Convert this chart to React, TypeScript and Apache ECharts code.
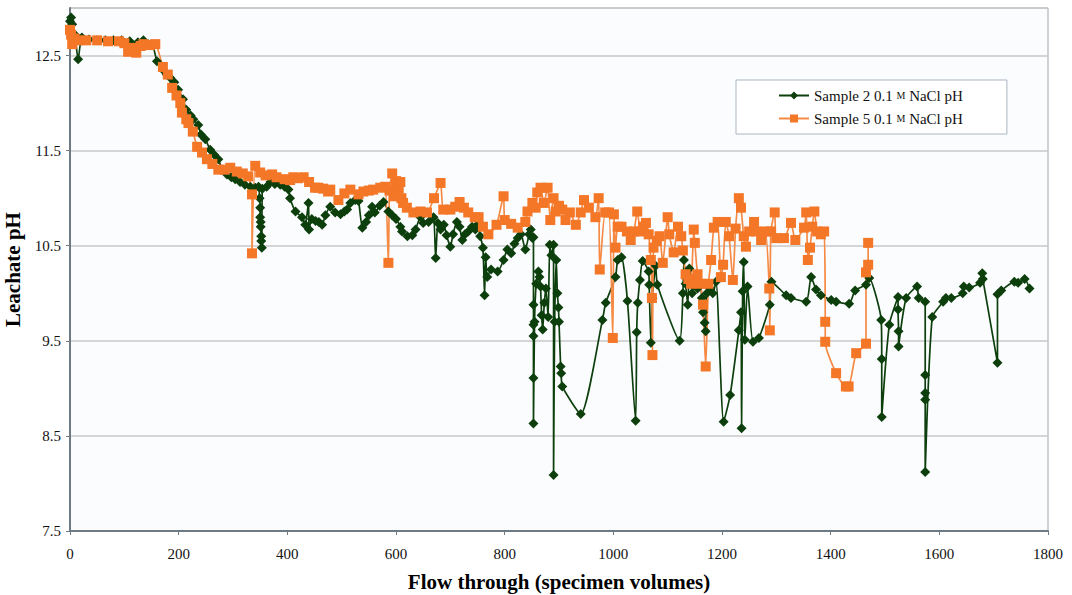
import React, { useEffect, useRef } from "react";
import * as echarts from "echarts";

const xTicks = [0, 200, 400, 600, 800, 1000, 1200, 1400, 1600, 1800];
const yTicks = [7.5, 8.5, 9.5, 10.5, 11.5, 12.5];
const seriesNames = ["Sample 2 0.1 M NaCl pH", "Sample 5 0.1 M NaCl pH"];

const sample2: [number, number][] = [
  [0, 12.86], [2, 12.9], [4, 12.83], [9, 12.72], [15, 12.46], [22, 12.69], [35, 12.67], [50, 12.66],
  [65, 12.66], [80, 12.66], [95, 12.66], [110, 12.65], [125, 12.64], [135, 12.66], [144, 12.62], [151, 12.62],
  [160, 12.44], [171, 12.35], [178, 12.3], [184, 12.27], [192, 12.22], [199, 12.14], [208, 12.04], [214, 11.93],
  [222, 11.87], [227, 11.83], [236, 11.77], [241, 11.67], [249, 11.62], [258, 11.51], [265, 11.46], [273, 11.41],
  [280, 11.3], [289, 11.25], [297, 11.22], [304, 11.2], [313, 11.17], [322, 11.14], [332, 11.12], [341, 11.11],
  [347, 11.12], [349, 11.0], [350, 10.9], [350, 10.8], [351, 10.75], [351, 10.7], [352, 10.6], [352, 10.55],
  [353, 10.48], [354, 11.1], [362, 11.12], [369, 11.17], [377, 11.15], [387, 11.14], [395, 11.12], [402, 11.09],
  [405, 11.0], [415, 10.86], [427, 10.8], [433, 10.72], [439, 10.95], [440, 10.67], [445, 10.78], [452, 10.76],
  [458, 10.75], [464, 10.72], [470, 10.82], [479, 10.91], [488, 10.85], [498, 10.83], [505, 10.86], [510, 10.88],
  [516, 10.95], [525, 10.98], [531, 10.97], [538, 10.69], [545, 10.75], [550, 10.82], [556, 10.91], [561, 10.85],
  [570, 10.92], [577, 10.96], [586, 10.86], [593, 10.82], [600, 10.78], [608, 10.7], [611, 10.65], [621, 10.6],
  [630, 10.61], [636, 10.67], [645, 10.8], [650, 10.74], [660, 10.75], [669, 10.8], [673, 10.37], [677, 10.74],
  [682, 10.67], [688, 10.72], [693, 10.61], [700, 10.49], [705, 10.62], [712, 10.75], [717, 10.7], [722, 10.56],
  [727, 10.62], [733, 10.65], [740, 10.7], [746, 10.67], [750, 10.72], [755, 10.6], [760, 10.48], [763, 9.98],
  [765, 10.38], [768, 10.17], [775, 10.25], [787, 10.23], [798, 10.35], [805, 10.46], [812, 10.42], [818, 10.52],
  [824, 10.58], [830, 10.62], [838, 10.46], [845, 10.62], [848, 10.67], [851, 10.58], [853, 10.59], [853, 9.88],
  [853, 9.67], [853, 9.55], [853, 9.11], [853, 8.63], [855, 9.7], [858, 10.1], [862, 10.23], [864, 10.17],
  [866, 10.07], [868, 9.77], [870, 9.62], [873, 9.9], [876, 10.05], [880, 9.75], [883, 10.51], [886, 10.4],
  [890, 10.51], [890, 8.09], [892, 9.7], [895, 10.35], [897, 10.0], [899, 9.85], [900, 9.7], [903, 9.23],
  [904, 9.16], [906, 9.02], [940, 8.73], [980, 9.72], [986, 9.9], [1004, 10.17], [1008, 10.35], [1015, 10.38],
  [1026, 9.92], [1041, 8.66], [1043, 9.59], [1045, 9.9], [1049, 10.14], [1054, 10.34], [1065, 10.23], [1066, 10.09],
  [1069, 9.48], [1072, 9.95], [1078, 10.29], [1081, 10.09], [1122, 9.5], [1128, 10.0], [1130, 10.35], [1133, 10.1],
  [1137, 9.88], [1140, 10.26], [1145, 10.0], [1150, 10.15], [1155, 10.05], [1160, 10.1], [1163, 9.95], [1165, 9.8],
  [1168, 9.69], [1170, 9.6], [1172, 10.0], [1178, 10.05], [1183, 10.0], [1189, 10.12], [1203, 8.65], [1215, 8.93],
  [1231, 9.61], [1235, 9.8], [1236, 8.58], [1238, 10.02], [1240, 10.33], [1242, 9.51], [1247, 10.07], [1257, 9.49],
  [1268, 9.53], [1288, 9.88], [1291, 10.12], [1318, 9.98], [1327, 9.95], [1355, 9.91], [1364, 10.17], [1373, 10.04],
  [1382, 9.98], [1401, 9.93], [1410, 9.91], [1434, 9.89], [1445, 10.03], [1465, 10.09], [1471, 10.16], [1493, 9.72],
  [1494, 9.31], [1494, 8.7], [1508, 9.67], [1524, 9.96], [1524, 9.83], [1525, 9.6], [1525, 9.44], [1539, 9.95],
  [1559, 10.07], [1562, 9.95], [1574, 9.91], [1574, 9.14], [1574, 8.95], [1574, 8.88], [1574, 8.12], [1587, 9.75],
  [1607, 9.91], [1612, 9.95], [1622, 9.95], [1643, 10.0], [1645, 10.07], [1655, 10.06], [1675, 10.11], [1679, 10.21],
  [1680, 10.15], [1707, 9.27], [1707, 9.99], [1714, 10.03], [1738, 10.12], [1745, 10.11], [1757, 10.15], [1766, 10.05],
];

const sample5: [number, number][] = [
  [0, 12.77], [2, 12.72], [4, 12.62], [8, 12.68], [15, 12.66], [30, 12.66], [50, 12.66], [70, 12.65],
  [90, 12.65], [100, 12.63], [107, 12.54], [115, 12.58], [122, 12.53], [130, 12.6], [135, 12.62], [147, 12.61],
  [157, 12.62], [171, 12.38], [180, 12.3], [188, 12.16], [196, 12.08], [203, 12.0], [206, 11.9], [214, 11.83],
  [218, 11.79], [226, 11.7], [234, 11.54], [243, 11.48], [252, 11.41], [262, 11.36], [273, 11.3], [285, 11.3],
  [295, 11.32], [307, 11.28], [318, 11.26], [328, 11.23], [335, 11.04], [335, 10.42], [341, 11.34], [350, 11.27],
  [360, 11.24], [372, 11.25], [380, 11.22], [395, 11.2], [405, 11.19], [411, 11.22], [420, 11.21], [430, 11.22],
  [440, 11.17], [451, 11.11], [457, 11.11], [466, 11.1], [475, 11.07], [479, 11.09], [494, 10.98], [505, 11.05],
  [516, 11.09], [531, 11.04], [540, 11.07], [550, 11.08], [558, 11.09], [571, 11.11], [580, 11.12], [586, 10.32],
  [588, 11.08], [593, 11.26], [596, 11.02], [600, 11.18], [605, 11.1], [608, 11.17], [610, 11.0], [613, 10.95],
  [620, 10.9], [632, 10.85], [645, 10.86], [657, 10.85], [670, 11.0], [682, 11.16], [687, 10.88], [700, 10.88],
  [709, 10.91], [717, 10.96], [725, 10.9], [733, 10.85], [745, 10.8], [752, 10.8], [760, 10.7], [770, 10.62],
  [785, 10.72], [798, 11.02], [800, 10.77], [812, 10.73], [824, 10.69], [838, 10.75], [842, 10.86], [851, 10.95],
  [857, 10.9], [860, 11.06], [866, 11.11], [872, 10.95], [879, 11.11], [884, 10.77], [890, 11.0], [894, 10.86],
  [900, 10.92], [906, 10.88], [912, 10.77], [920, 10.85], [931, 10.72], [940, 10.85], [946, 10.98], [955, 10.9],
  [967, 10.8], [973, 11.0], [975, 10.25], [985, 10.85], [992, 10.85], [999, 9.53], [1001, 10.83], [1004, 10.48],
  [1008, 10.7], [1015, 10.7], [1025, 10.65], [1032, 10.56], [1038, 10.65], [1044, 10.86], [1050, 10.65], [1055, 10.7],
  [1060, 10.74], [1065, 10.62], [1069, 10.35], [1071, 9.95], [1072, 9.35], [1074, 10.48], [1080, 10.55], [1085, 10.6],
  [1091, 10.32], [1100, 10.8], [1103, 10.62], [1111, 10.43], [1119, 10.7], [1125, 10.6], [1128, 10.45], [1133, 10.2],
  [1138, 10.15], [1143, 10.1], [1148, 10.67], [1150, 10.53], [1155, 10.2], [1160, 10.1], [1165, 9.88], [1170, 9.23],
  [1175, 10.1], [1180, 10.35], [1185, 10.69], [1192, 10.75], [1198, 10.17], [1202, 10.3], [1207, 10.75], [1213, 10.6],
  [1220, 10.14], [1225, 10.68], [1231, 11.0], [1235, 10.9], [1240, 10.6], [1244, 10.49], [1250, 10.65], [1259, 10.75],
  [1263, 10.65], [1272, 10.56], [1280, 10.65], [1287, 10.05], [1288, 9.61], [1290, 10.65], [1297, 10.85], [1300, 10.58],
  [1314, 10.58], [1327, 10.74], [1335, 10.56], [1351, 10.69], [1355, 10.85], [1358, 10.35], [1362, 10.48], [1366, 10.7],
  [1370, 10.86], [1375, 10.65], [1382, 10.62], [1388, 10.65], [1390, 9.7], [1390, 9.49], [1410, 9.16], [1428, 9.02],
  [1433, 9.02], [1447, 9.37], [1465, 9.47], [1465, 10.22], [1469, 10.3], [1469, 10.53],
];

const FONT = "'Liberation Serif', 'Times New Roman', serif";

export default function App() {
  const ref = useRef<HTMLDivElement>(null);
  useEffect(() => {
    if (!ref.current) return;
    const chart = echarts.init(ref.current, undefined, { renderer: "svg" });
    chart.setOption({
      animation: false,
      backgroundColor: "#ffffff",
      textStyle: { fontFamily: FONT },
      grid: {
        left: 70,
        right: 24,
        top: 8,
        bottom: 64,
        containLabel: false,
        outerBoundsMode: "none",
        show: true,
        backgroundColor: "#fbfcfe",
        borderColor: "#9ea8b0",
        borderWidth: 1,
      },
      legend: {
        left: 736,
        top: 80,
        orient: "vertical",
        padding: [8, 44, 8, 42],
        itemGap: 8,
        itemWidth: 30,
        itemHeight: 10,
        backgroundColor: "#ffffff",
        borderColor: "#aab6c2",
        borderWidth: 1,
        data: seriesNames,
        formatter: (name: string) => name.replace(" M ", " {m|M} "),
        textStyle: {
          fontFamily: FONT,
          fontSize: 15,
          color: "#111",
          rich: { m: { fontFamily: FONT, fontSize: 10, color: "#111" } },
        },
      },
      xAxis: {
        type: "value",
        min: xTicks[0],
        max: xTicks[xTicks.length - 1],
        interval: 200,
        name: "Flow through (specimen volumes)",
        nameLocation: "middle",
        nameGap: 40,
        nameTextStyle: { fontFamily: FONT, fontSize: 21, fontWeight: "bold", color: "#000" },
        axisLine: { show: true, lineStyle: { color: "#6f7b84", width: 2 } },
        axisTick: { show: true, length: 4, lineStyle: { color: "#6f7b84" } },
        axisLabel: {
          fontFamily: FONT,
          fontSize: 15,
          color: "#111",
          margin: 15,
          formatter: (v: number) => String(v),
        },
        splitLine: { show: false },
      },
      yAxis: {
        type: "value",
        min: yTicks[0],
        max: 13,
        interval: 1,
        name: "Leachate pH",
        nameLocation: "middle",
        nameGap: 41,
        nameTextStyle: { fontFamily: FONT, fontSize: 21, fontWeight: "bold", color: "#000" },
        axisLine: { show: true, lineStyle: { color: "#6f7b84", width: 2 } },
        axisTick: { show: true, length: 4, lineStyle: { color: "#6f7b84" } },
        axisLabel: {
          fontFamily: FONT,
          fontSize: 15,
          color: "#111",
          margin: 9,
          showMaxLabel: false,
          formatter: (v: number) => v.toFixed(1),
        },
        splitLine: { show: true, lineStyle: { color: "#c9c9c9", width: 1.5 } },
      },
      series: [
        {
          name: seriesNames[0],
          type: "line",
          data: sample2,
          smooth: 0.2,
          symbol: "diamond",
          symbolSize: 10,
          itemStyle: { color: "#0c3f0c" },
          lineStyle: { color: "#0c3f0c", width: 1.7 },
        },
        {
          name: seriesNames[1],
          type: "line",
          data: sample5,
          smooth: 0.2,
          symbol: "rect",
          symbolSize: 10,
          itemStyle: { color: "#f47627" },
          lineStyle: { color: "#f68a44", width: 1.7 },
        },
      ],
    });
    return () => chart.dispose();
  }, []);
  return (
    <div
      ref={ref}
      style={{ position: "fixed", left: 0, top: 0, width: 1072, height: 595, background: "#fff" }}
    />
  );
}
